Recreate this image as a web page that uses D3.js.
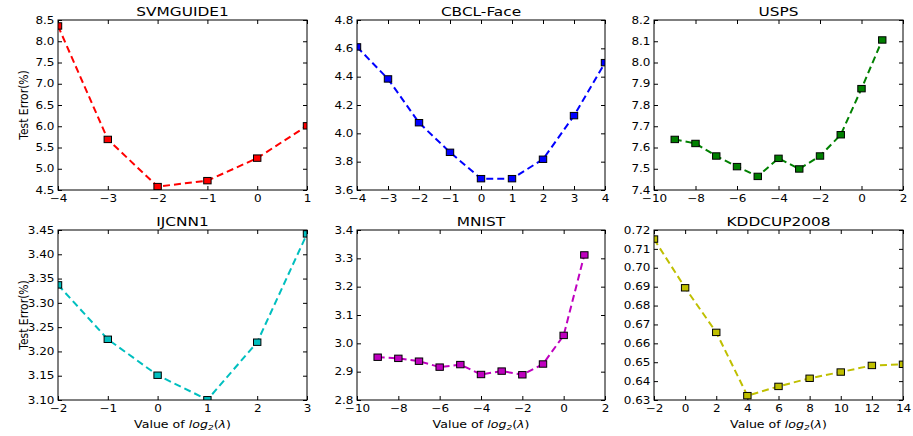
<!DOCTYPE html>
<html>
<head>
<meta charset="utf-8">
<script src="https://cdn.jsdelivr.net/npm/d3@7"></script>
<style>
body { margin: 0; background: #fff; }
text { font-family: "DejaVu Sans", sans-serif; fill: #000; }
</style>
</head>
<body>
<div id="viz"></div>
<script>
// data
titles = ['SVMGUIDE1', 'CBCL-Face', 'USPS', 'IJCNN1', 'MNIST', 'KDDCUP2008'];
colors = ['#ff0000', '#0000ff', '#008000', '#00bfbf', '#bf00bf', '#bfbf00'];

svmX = [-4, -3, -2, -1, 0, 1];
svmY = [8.36, 5.69, 4.58, 4.72, 5.25, 6.01];
cbclX = [-4, -3, -2, -1, 0, 1, 2, 3, 4];
cbclY = [4.61, 4.384, 4.075, 3.866, 3.68, 3.68, 3.817, 4.125, 4.499];
uspsX = [-9, -8, -7, -6, -5, -4, -3, -2, -1, 0, 1];
uspsY = [7.638, 7.619, 7.560, 7.510, 7.464, 7.549, 7.499, 7.560, 7.660, 7.877, 8.106];
ijcnnX = [-2, -1, 0, 1, 2, 3];
ijcnnY = [3.337, 3.225, 3.151, 3.1005, 3.219, 3.442];
mnistX = [-9, -8, -7, -6, -5, -4, -3, -2, -1, 0, 1];
mnistY = [2.951, 2.947, 2.937, 2.916, 2.925, 2.890, 2.902, 2.889, 2.927, 3.028, 3.312];
kddX = [-2, 0, 2, 4, 6, 8, 10, 12, 14];
kddY = [0.7152, 0.6894, 0.6658, 0.6323, 0.6372, 0.6415, 0.6448, 0.6483, 0.6489];

// tick labels
xTicks = [
	[-4, -3, -2, -1, 0, 1],
	[-4, -3, -2, -1, 0, 1, 2, 3, 4],
	[-10, -8, -6, -4, -2, 0, 2],
	[-2, -1, 0, 1, 2, 3],
	[-10, -8, -6, -4, -2, 0, 2],
	[-2, 0, 2, 4, 6, 8, 10, 12, 14]
];
yTicks = [
	[4.5, 5.0, 5.5, 6.0, 6.5, 7.0, 7.5, 8.0, 8.5],
	[3.6, 3.8, 4.0, 4.2, 4.4, 4.6, 4.8],
	[7.4, 7.5, 7.6, 7.7, 7.8, 7.9, 8.0, 8.1, 8.2],
	[3.10, 3.15, 3.20, 3.25, 3.30, 3.35, 3.40, 3.45],
	[2.8, 2.9, 3.0, 3.1, 3.2, 3.3, 3.4],
	[0.63, 0.64, 0.65, 0.66, 0.67, 0.68, 0.69, 0.70, 0.71, 0.72]
];
yFormats = ['.1f', '.1f', '.1f', '.2f', '.1f', '.2f'];

xs = [svmX, cbclX, uspsX, ijcnnX, mnistX, kddX];
ys = [svmY, cbclY, uspsY, ijcnnY, mnistY, kddY];

// the picture is stretched sideways a bit
stretch = 'scale(1.2,1)';

cols = [[58, 307], [357, 605], [654, 903]];
rows = [[20, 190], [230, 400]];

svg = d3.select('#viz').append('svg')
	.attr('width', 913)
	.attr('height', 436);

titles.forEach(function(title, i) {
	var c = cols[i % 3], r = rows[Math.floor(i / 3)];
	var w = c[1] - c[0], h = r[1] - r[0];
	var xt = xTicks[i], yt = yTicks[i];

	var x = d3.scaleLinear().domain([xt[0], xt[xt.length - 1]]).range([0, w]);
	var y = d3.scaleLinear().domain([yt[0], yt[yt.length - 1]]).range([h, 0]);

	var g = svg.append('g')
		.attr('transform', 'translate(' + c[0] + ',' + r[0] + ')');

	g.append('clipPath').attr('id', 'clip' + i)
		.append('rect').attr('width', w).attr('height', h);

	// axes, ticks pointing inwards on all four sides
	var bottom = g.append('g').attr('transform', 'translate(0,' + h + ')')
		.call(d3.axisBottom(x).tickValues(xt).tickFormat(d3.format('d'))
			.tickSizeInner(-4).tickSizeOuter(0).tickPadding(5));
	var left = g.append('g')
		.call(d3.axisLeft(y).tickValues(yt).tickFormat(d3.format(yFormats[i]))
			.tickSizeInner(-4).tickSizeOuter(0));
	g.append('g')
		.call(d3.axisTop(x).tickValues(xt).tickFormat('').tickSizeInner(-4).tickSizeOuter(0));
	g.append('g').attr('transform', 'translate(' + w + ',0)')
		.call(d3.axisRight(y).tickValues(yt).tickFormat('').tickSizeInner(-4).tickSizeOuter(0));

	g.selectAll('.domain').remove();
	g.selectAll('.tick line').attr('stroke', '#000').attr('stroke-width', 1);
	g.selectAll('.tick text').attr('font-size', 10).attr('fill', '#000')
		.style('font-family', '"DejaVu Sans", sans-serif');
	bottom.selectAll('text').attr('transform', stretch);
	left.selectAll('text').attr('x', 0).attr('transform', 'translate(-3.5,0) ' + stretch);

	// data
	var pts = xs[i].map(function(v, k) { return [v, ys[i][k]]; });
	var plot = g.append('g').attr('clip-path', 'url(#clip' + i + ')');

	plot.append('path')
		.datum(pts)
		.attr('fill', 'none')
		.attr('stroke', colors[i])
		.attr('stroke-width', 2)
		.attr('stroke-dasharray', '7,4')
		.attr('d', d3.line().x(d => x(d[0])).y(d => y(d[1])));

	plot.selectAll('rect.mk')
		.data(pts)
		.enter()
		.append('rect')
		.attr('class', 'mk')
		.attr('x', d => x(d[0]) - 3.7)
		.attr('y', d => y(d[1]) - 3.2)
		.attr('width', 7.4)
		.attr('height', 6.4)
		.attr('fill', colors[i])
		.attr('stroke', '#000')
		.attr('stroke-width', 1);

	// frame
	g.append('rect')
		.attr('width', w).attr('height', h)
		.attr('fill', 'none').attr('stroke', '#000').attr('stroke-width', 1);

	// title
	g.append('text')
		.attr('transform', 'translate(' + (w / 2) + ',-4) ' + stretch)
		.attr('text-anchor', 'middle')
		.attr('font-size', 12.8)
		.text(title);

	if (i % 3 == 0) {
		g.append('text')
			.attr('transform', 'translate(' + (28 - c[0]) + ',' + (h / 2) + ') rotate(-90) scale(1,1.2)')
			.attr('text-anchor', 'middle')
			.attr('font-size', 10.8)
			.text('Test Error(%)');
	}

	if (i >= 3) {
		var xl = g.append('text')
			.attr('transform', 'translate(' + (w / 2) + ',' + (h + 28) + ') ' + stretch)
			.attr('text-anchor', 'middle')
			.attr('font-size', 10.5);
		xl.append('tspan').text('Value of ');
		xl.append('tspan').attr('font-style', 'italic').text('log');
		xl.append('tspan').attr('font-style', 'italic').attr('font-size', 7.5).attr('dy', 2).text('2');
		xl.append('tspan').attr('dy', -2).text('(');
		xl.append('tspan').attr('font-style', 'italic').text('λ');
		xl.append('tspan').text(')');
	}
});
</script>
</body>
</html>
